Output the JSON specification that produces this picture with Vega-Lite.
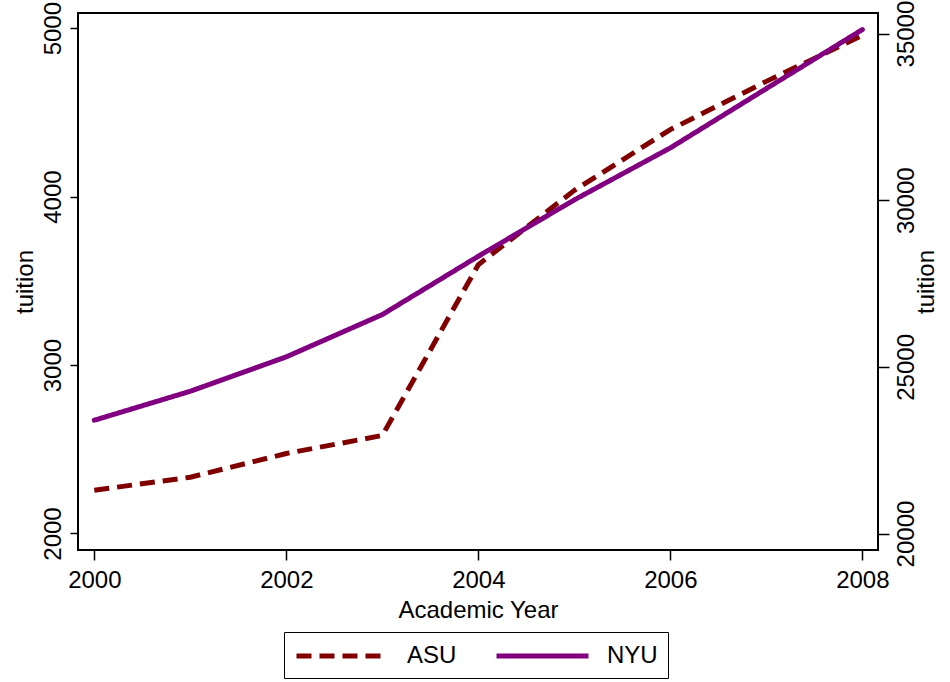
{
  "$schema": "https://vega.github.io/schema/vega-lite/v6.json",
  "width": 800,
  "height": 537,
  "autosize": {"type": "none"},
  "padding": {"left": 78, "top": 13, "right": 72, "bottom": 132},
  "background": "white",
  "config": {
    "font": "Liberation Sans",
    "view": {"stroke": "#000", "strokeWidth": 2},
    "axis": {
      "grid": false,
      "domain": false,
      "tickColor": "#000",
      "tickWidth": 1.5,
      "tickSize": 8,
      "labelColor": "#000",
      "titleColor": "#000",
      "labelFontSize": 24,
      "titleFontSize": 24,
      "titleFontWeight": "normal",
      "labelFont": "Liberation Sans",
      "titleFont": "Liberation Sans"
    },
    "legend": {"labelFont": "Liberation Sans"}
  },
  "data": {
    "values": [
      {"year": 2000, "school": "ASU", "tuition": 2257},
      {"year": 2001, "school": "ASU", "tuition": 2334},
      {"year": 2002, "school": "ASU", "tuition": 2475},
      {"year": 2003, "school": "ASU", "tuition": 2582},
      {"year": 2004, "school": "ASU", "tuition": 3596},
      {"year": 2005, "school": "ASU", "tuition": 4037},
      {"year": 2006, "school": "ASU", "tuition": 4398},
      {"year": 2007, "school": "ASU", "tuition": 4684},
      {"year": 2008, "school": "ASU", "tuition": 4957},
      {"year": 2000, "school": "NYU", "tuition": 23399},
      {"year": 2001, "school": "NYU", "tuition": 24269},
      {"year": 2002, "school": "NYU", "tuition": 25301},
      {"year": 2003, "school": "NYU", "tuition": 26570},
      {"year": 2004, "school": "NYU", "tuition": 28319},
      {"year": 2005, "school": "NYU", "tuition": 30011},
      {"year": 2006, "school": "NYU", "tuition": 31571},
      {"year": 2007, "school": "NYU", "tuition": 33350},
      {"year": 2008, "school": "NYU", "tuition": 35120}
    ]
  },
  "encoding": {
    "x": {
      "field": "year",
      "type": "quantitative",
      "scale": {"domain": [1999.83, 2008.163], "nice": false, "zero": false},
      "axis": {
        "values": [2000, 2002, 2004, 2006, 2008],
        "format": "d",
        "title": "Academic Year",
        "tickSize": 10,
        "labelPadding": 8,
        "titlePadding": 6
      }
    },
    "color": {
      "field": "school",
      "type": "nominal",
      "scale": {"domain": ["ASU", "NYU"], "range": ["#800000", "#800080"]},
      "legend": {
        "title": null,
        "orient": "none",
        "direction": "horizontal",
        "legendX": 206,
        "legendY": 619,
        "strokeColor": "#000",
        "padding": 10,
        "symbolType": "M-1,0H7",
        "symbolSize": 529,
        "symbolStrokeWidth": 5,
        "labelFontSize": 24,
        "labelColor": "#000",
        "labelOffset": 85,
        "columnPadding": 29
      }
    },
    "strokeDash": {
      "field": "school",
      "type": "nominal",
      "scale": {"domain": ["ASU", "NYU"], "range": [[15, 8], [1, 0]]},
      "legend": {
        "title": null,
        "orient": "none",
        "direction": "horizontal",
        "legendX": 206,
        "legendY": 619,
        "strokeColor": "#000",
        "padding": 10,
        "symbolType": "M-1,0H7",
        "symbolSize": 529,
        "symbolStrokeWidth": 5,
        "labelFontSize": 24,
        "labelColor": "#000",
        "labelOffset": 85,
        "columnPadding": 29
      }
    }
  },
  "layer": [
    {
      "transform": [{"filter": "datum.school === 'ASU'"}],
      "mark": {"type": "line", "strokeWidth": 5, "strokeJoin": "round"},
      "encoding": {
        "y": {
          "field": "tuition",
          "type": "quantitative",
          "scale": {"domain": [1902, 5090], "nice": false, "zero": false},
          "axis": {
            "orient": "left",
            "values": [2000, 3000, 4000, 5000],
            "format": "d",
            "title": "tuition",
            "labelAngle": 270,
            "labelAlign": "center",
            "labelBaseline": "alphabetic",
            "labelPadding": 10,
            "titlePadding": 4
          }
        }
      }
    },
    {
      "transform": [{"filter": "datum.school === 'NYU'"}],
      "mark": {"type": "line", "strokeWidth": 5, "strokeJoin": "round", "strokeCap": "round"},
      "encoding": {
        "y": {
          "field": "tuition",
          "type": "quantitative",
          "scale": {"domain": [19505, 35618], "nice": false, "zero": false},
          "axis": {
            "orient": "right",
            "values": [20000, 25000, 30000, 35000],
            "format": "d",
            "title": "tuition",
            "tickSize": 11,
            "labelAngle": 270,
            "labelAlign": "center",
            "labelBaseline": "top",
            "labelPadding": 5,
            "titleAngle": 270,
            "titleBaseline": "top",
            "titlePadding": -4
          }
        }
      }
    }
  ],
  "resolve": {"scale": {"y": "independent"}}
}
